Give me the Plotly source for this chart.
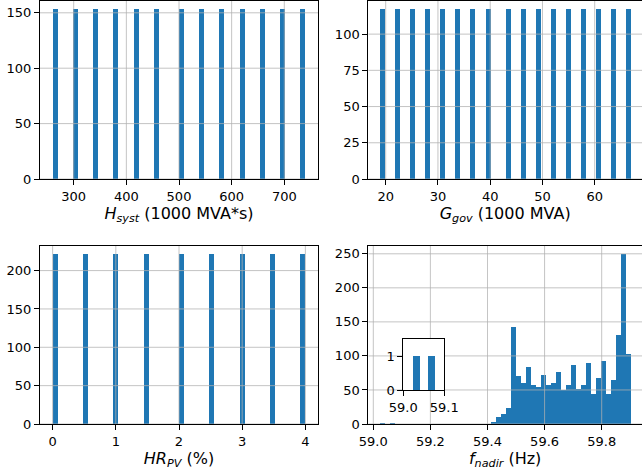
import numpy as np
import plotly.graph_objects as go

# ---------------- data ----------------
hsyst_values = [260, 300, 340, 380, 420, 460, 500, 540, 580, 620, 660, 700, 740]
hsyst_counts = [153, 153, 153, 153, 153, 153, 153, 153, 153, 153, 153, 153, 153]

ggov_values = [19, 22, 25, 28, 31, 34, 37, 40, 43, 46, 49, 52, 55, 58, 61, 64, 67]
ggov_counts = [117, 117, 117, 117, 117, 117, 117, 117, 117, 117, 117, 117, 117, 117, 117, 117, 117]

hrpv_values = [0.0, 0.5, 1.0, 1.5, 2.0, 2.5, 3.0, 3.5, 4.0]
hrpv_counts = [221, 221, 221, 221, 221, 221, 221, 221, 221]

fnadir_min = 59.025
fnadir_max = 59.904
fnadir_counts = [1, 0, 1, 0, 0, 0, 0, 0, 0, 0,
                 0, 0, 0, 0, 0, 0, 0, 0, 0, 0,
                 0, 0, 3, 10, 14, 24, 143, 71, 60, 83,
                 57, 54, 72, 57, 60, 76, 50, 58, 87, 51,
                 57, 89, 44, 68, 93, 44, 65, 131, 249, 103]

N_BINS = 50

hsyst_xticks = [300, 400, 500, 600, 700]
hsyst_yticks = [0, 50, 100, 150]
ggov_xticks = [20, 30, 40, 50, 60]
ggov_yticks = [0, 25, 50, 75, 100]
hrpv_xticks = [0, 1, 2, 3, 4]
hrpv_yticks = [0, 50, 100, 150, 200]
fnadir_xticks = [59.0, 59.2, 59.4, 59.6, 59.8]
fnadir_xticklabels = ["59.0", "59.2", "59.4", "59.6", "59.8"]
fnadir_yticks = [0, 50, 100, 150, 200, 250]
inset_xticks = [59.0, 59.1]
inset_xticklabels = ["59.0", "59.1"]
inset_yticks = [0, 1]
inset_xrange = [59.0, 59.1]
inset_yrange = [0, 1.5]

# ---------------- helpers ----------------
W, H = 642, 474
BLUE = "#1f77b4"
GRID = "rgba(176,176,176,0.75)"
FONT = "DejaVu Sans"


def hist_from_values(values, counts):
    c, edges = np.histogram(np.asarray(values, float), bins=N_BINS,
                            weights=np.asarray(counts, float))
    return c, edges


def xd(a, b):
    return [a / W, min(b / W, 1.0)]


def yd(top, bottom):
    return [1 - bottom / H, 1 - top / H]


fig = go.Figure()


def add_panel(idx, counts, edges, xdom, ydom, xrange, xticks, yticks,
              title, right_col=False, xticklabels=None):
    sfx = "" if idx == 1 else str(idx)
    xa, ya = "x" + sfx, "y" + sfx
    centers = 0.5 * (edges[:-1] + edges[1:])
    width = edges[1] - edges[0]
    ytop = float(np.max(counts)) * 1.05
    fig.add_trace(go.Bar(x=centers, y=counts, width=width, xaxis=xa, yaxis=ya,
                         marker=dict(color=BLUE, line=dict(width=0)),
                         showlegend=False))
    # gridlines on top of bars (matplotlib style here)
    gx, gy = [], []
    for t in xticks:
        gx += [t, t, None]
        gy += [0, ytop, None]
    for t in yticks:
        gx += [xrange[0], xrange[1], None]
        gy += [t, t, None]
    fig.add_trace(go.Scatter(x=gx, y=gy, mode="lines", xaxis=xa, yaxis=ya,
                             line=dict(color=GRID, width=1), hoverinfo="skip",
                             showlegend=False))
    common = dict(showgrid=False, zeroline=False, showline=True, linecolor="black",
                  linewidth=1, ticks="outside", ticklen=5, tickwidth=1,
                  tickcolor="black", tickfont=dict(family=FONT, size=13, color="black"),
                  automargin=False)
    xaxis = dict(common, domain=xdom, range=xrange, anchor=ya, tickvals=xticks,
                 mirror=True,
                 title=dict(text=title, font=dict(family=FONT, size=16, color="black"),
                            standoff=4))
    if xticklabels is not None:
        xaxis["ticktext"] = xticklabels
    yaxis = dict(common, domain=ydom, range=[0, ytop], anchor=xa, tickvals=yticks,
                 mirror=(not right_col))
    fig.update_layout(**{"xaxis" + sfx: xaxis, "yaxis" + sfx: yaxis})


top_row = yd(1, 179)
bot_row = yd(246, 424)

c1, e1 = hist_from_values(hsyst_values, hsyst_counts)
span1 = e1[-1] - e1[0]
add_panel(1, c1, e1, xd(40, 318), top_row,
          [e1[0] - 0.05 * span1, e1[-1] + 0.05 * span1], hsyst_xticks, hsyst_yticks,
          "<i>H</i><sub><i>syst</i></sub> (1000 MVA*s)")

c2, e2 = hist_from_values(ggov_values, ggov_counts)
add_panel(2, c2, e2, xd(368.3, 642), top_row,
          [16.67, 69.05], ggov_xticks, ggov_yticks,
          "<i>G</i><sub><i>gov</i></sub> (1000 MVA)", right_col=True)

c3, e3 = hist_from_values(hrpv_values, hrpv_counts)
span3 = e3[-1] - e3[0]
add_panel(3, c3, e3, xd(40, 318), bot_row,
          [e3[0] - 0.05 * span3, e3[-1] + 0.05 * span3], hrpv_xticks, hrpv_yticks,
          "<i>HR</i><sub><i>PV</i></sub> (%)")

e4 = np.linspace(fnadir_min, fnadir_max, N_BINS + 1)
c4 = np.asarray(fnadir_counts, float)
add_panel(4, c4, e4, xd(368.3, 642), bot_row,
          [58.9825, 59.9412], fnadir_xticks, fnadir_yticks,
          "<i>f</i><sub><i>nadir</i></sub> (Hz)", right_col=True,
          xticklabels=fnadir_xticklabels)

# ---------------- inset ----------------
# white background of the inset (bar spanning the whole inset range, drawn first)
fig.add_trace(go.Bar(x=[0.5 * (inset_xrange[0] + inset_xrange[1])], y=[inset_yrange[1]],
                     width=inset_xrange[1] - inset_xrange[0], xaxis="x5", yaxis="y5",
                     marker=dict(color="white", line=dict(width=0)),
                     hoverinfo="skip", showlegend=False))
centers4 = 0.5 * (e4[:-1] + e4[1:])
fig.add_trace(go.Bar(x=centers4, y=c4, width=e4[1] - e4[0], xaxis="x5", yaxis="y5",
                     marker=dict(color=BLUE, line=dict(width=0)), showlegend=False))
inset_common = dict(showgrid=False, zeroline=False, showline=True, linecolor="black",
                    linewidth=1, mirror=True, ticks="outside", ticklen=5, tickwidth=1,
                    tickcolor="black", tickfont=dict(family=FONT, size=13, color="black"),
                    automargin=False)
fig.update_layout(
    xaxis5=dict(inset_common, domain=xd(403.3, 444.3), range=inset_xrange, anchor="y5",
                tickvals=inset_xticks, ticktext=inset_xticklabels),
    yaxis5=dict(inset_common, domain=yd(339.3, 390), range=inset_yrange, anchor="x5",
                tickvals=inset_yticks),
)

fig.update_layout(
    template="none",
    width=W, height=H,
    margin=dict(l=0, r=0, t=0, b=0, pad=0),
    paper_bgcolor="white", plot_bgcolor="white",
    bargap=0, barmode="overlay",
    showlegend=False,
    font=dict(family=FONT, size=13, color="black"),
)

fig.write_html("out.html",
               config={"displayModeBar": False},
               post_script="document.body.style.margin='0px';document.body.style.padding='0px';")
